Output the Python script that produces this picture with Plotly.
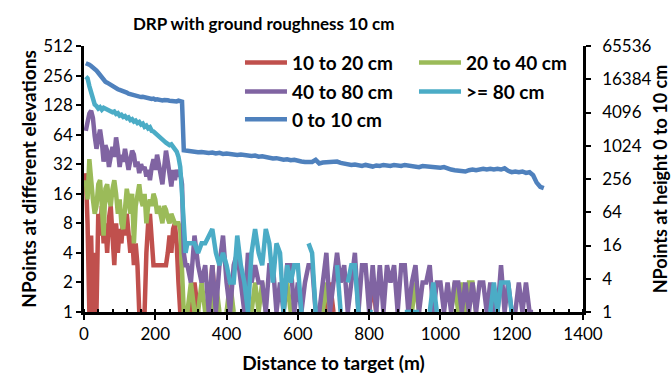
import math
import plotly.graph_objects as go

# Sampling grid: 5 m steps close to the target, 10 m steps further out
near_distance = list(range(5, 290, 5))       # 5 .. 285 m
far_distance = list(range(290, 1300, 10))    # 290 .. 1290 m
distance_m = near_distance + far_distance

N = None  # no points in that class at this distance

# 0 to 10 cm (plotted against the right-hand axis)
pts_0_10_near = [
    32000, 31500, 30000, 28500, 27000, 25500, 23500, 21500, 19500, 17500,
    15800, 14800, 14200, 13500, 13000, 12000, 11800, 11300, 10800, 10500,
    10300, 9900, 9600, 9400, 9000, 8800, 8700, 8400, 8300, 8000,
    7900, 7800, 7900, 7700, 7500, 7300, 7400, 7200, 7300, 7000,
    7100, 6900, 7000, 6800, 6900, 6700, 6800, 6700, 6600, 6700,
    6600, 6500, 6700, 6500, 6400, 850, 840,
]
pts_0_10_far = [
    830, 800, 810, 780, 790, 770, 760, 770, 740, 760,
    730, 740, 720, 730, 700, 710, 690, 700, 670, 680,
    650, 660, 630, 610, 600, 610, 590, 570, 580, 560,
    570, 540, 530, 520, 530, 520, 570, 490, 510, 520,
    510, 520, 530, 500, 480, 470, 460, 470, 450, 440,
    460, 440, 430, 450, 440, 460, 450, 440, 460, 450,
    440, 460, 450, 430, 440, 420, 440, 430, 420, 430,
    420, 410, 420, 390, 380, 370, 360, 350, 350, 370,
    380, 370, 380, 390, 380, 390, 380, 390, 380, 400,
    360, 340, 350, 340, 350, 330, 340, 300, 220, 185,
    175,
]

# 10 to 20 cm
pts_10_20_near = [
    26, 8, 1, 6, 1, 4, 1, 10, 6, 12,
    5, 8, 4, 9, 12, 6, 3, 8, 4, 7,
    5, 9, 6, 10, 7, 4, 6, 3, 5, 3,
    1, 1, 1, 1, 4, 8, 10, 6, 3, 3,
    3, 3, 3, 3, 3, 3, 4, 6, 4, 7,
    8, 5, 2, 1, 1, N, N,
]
pts_10_20_far = [
    N, 1, 2, 1, N, N, 1, 3, 1, N,
    N, N, N, N, N, N, N, N, N, N,
    N, N, N, N, N, N, N, N, N, N,
    N, N, N, N, N, N, N, N, N, 1,
    2, 1, N, N, N, N, N, N, N, N,
    N, 1, 2, 1, N, N, N, N, N, N,
    N, N, N, N, N, N, N, N, N, N,
    N, N, N, N, N, N, N, N, N, N,
    N, N, N, N, N, N, N, N, N, N,
    N, N, N, N, N, N, N, N, N, N,
    N,
]

# 20 to 40 cm
pts_20_40_near = [
    22, 14, 36, 20, 14, 10, 12, 20, 22, 12,
    6, 18, 20, 14, 12, 18, 22, 16, 10, 14,
    8, 7, 12, 18, 14, 10, 16, 5, 12, 16,
    20, 14, 12, 16, 8, 12, 14, 12, 16, 14,
    10, 12, 10, 8, 12, 11, 9, 8, 10, 9,
    8, 8, 8, 7, 3, 1, 1,
]
pts_20_40_far = [
    1, 2, 1, 1, 2, 1, N, 1, 2, 1,
    N, 1, 2, 1, N, N, N, N, 1, 2,
    1, 2, 1, N, N, N, N, 1, 2, 1,
    N, N, N, N, N, N, N, N, 1, 2,
    1, N, N, N, N, N, N, N, N, N,
    N, N, N, N, N, N, N, N, N, N,
    N, N, N, 1, 2, 1, N, N, N, N,
    N, N, N, N, 1, 2, 1, 2, 1, 2,
    2, 1, N, N, N, N, N, N, N, N,
    N, N, N, N, N, N, N, N, N, N,
    N,
]

# 40 to 80 cm
pts_40_80_near = [
    70, 85, 105, 112, 95, 62, 46, 58, 72, 54,
    34, 50, 44, 30, 42, 48, 38, 60, 45, 30,
    40, 34, 46, 36, 28, 35, 44, 40, 30, 34,
    26, 32, 28, 30, 24, 28, 22, 30, 36, 28,
    40, 32, 26, 20, 30, 44, 34, 24, 19, 28,
    22, 28, 24, 26, 20, 4, 3,
]
pts_40_80_far = [
    3, 2, 6, 3, 2, 3, 1, 3, 1, 3,
    6, 2, 1, 3, 4, 2, 1, 4, 2, 3,
    2, 2, 1, 3, 3, 1, 2, 1, 3, 3,
    1, 2, 1, 2, 3, 3, 1, 1, 2, 4,
    1, 2, 4, 2, 3, 1, 2, 4, 1, 3,
    3, 1, 3, 1, 3, 1, 3, 2, 3, 1,
    3, 3, 1, 2, 3, 1, 2, 2, 3, 1,
    2, 2, 1, 2, 1, 2, 2, 1, 2, 1,
    2, 1, 2, 2, 1, 2, 1, 1, 3, 1,
    2, 1, 1, 2, 1, 2, 1, 1, N, N,
    N,
]

# >= 80 cm
pts_80_up_near = [
    250, 240, 200, 170, 140, 130, 125, 118, 122, 115,
    120, 118, 114, 112, 110, 108, 110, 104, 106, 100,
    102, 97, 99, 94, 96, 90, 92, 87, 89, 84,
    86, 81, 83, 77, 79, 74, 76, 70, 69, 66,
    64, 61, 59, 57, 55, 53, 52, 50, 51, 48,
    46, 43, 38, 30, 16, 6, 4,
]
pts_80_up_far = [
    5, 5, 5, 4, 5, 5, 6, 7, 4, 3,
    4, 3, 2, 2, 6, 3, 2, 1, 4, 7,
    4, 3, 7, 5, 2, 5, 4, 1, 3, 2,
    3, 3, 1, N, 5, 4, 1, N, N, N,
    N, N, 3, 1, N, 2, 3, 3, 1, N,
    N, 1, 1, N, N, N, N, N, N, N,
    N, 1, 1, 1, 1, 1, N, N, 1, 2,
    1, N, N, N, N, N, N, N, N, N,
    N, N, N, N, N, 1, 2, 1, 2, 2,
    2, 1, N, N, N, N, N, N, N, N,
    N,
]

left_ticks = [1, 2, 4, 8, 16, 32, 64, 128, 256, 512]
right_ticks = [1, 4, 16, 64, 256, 1024, 4096, 16384, 65536]
x_ticks = [0, 200, 400, 600, 800, 1000, 1200, 1400]

# (label, values, colour, legend slot, y axis)
series = [
    ("10 to 20 cm", pts_10_20_near + pts_10_20_far, "#C0504D", "legend", "y"),
    ("20 to 40 cm", pts_20_40_near + pts_20_40_far, "#9BBB59", "legend2", "y"),
    ("40 to 80 cm", pts_40_80_near + pts_40_80_far, "#8064A2", "legend3", "y"),
    (">= 80 cm", pts_80_up_near + pts_80_up_far, "#4BACC6", "legend4", "y"),
    ("0 to 10 cm", pts_0_10_near + pts_0_10_far, "#4F81BD", "legend5", "y2"),
]

FONT = "Lato"

fig = go.Figure()
for name, values, color, legend_id, axis in series:
    fig.add_trace(go.Scatter(
        x=distance_m, y=values, name=name, mode="lines",
        line=dict(color=color, width=4.5), connectgaps=False,
        legend=legend_id, yaxis=axis, showlegend=True,
    ))

axis_line = dict(showline=True, linecolor="black", linewidth=2.5,
                 showgrid=False, zeroline=False, ticks="outside",
                 ticklen=5, tickwidth=2, tickcolor="black", automargin=False,
                 tickfont=dict(family=FONT, size=17, color="black"))


def title_font(size):
    return dict(family=FONT, size=size, color="black", weight="bold")


def legend_box(x, y):
    return dict(orientation="v", xanchor="left", yanchor="middle", x=x, y=y,
                itemwidth=42, bgcolor="rgba(0,0,0,0)", borderwidth=0,
                font=dict(family=FONT, size=19, color="black", weight="bold"))


col1, col2 = 0.3126, 0.6613
row1, row2, row3 = 0.937, 0.828, 0.724

fig.update_layout(
    template="none",
    width=671, height=374,
    margin=dict(l=84, r=88, t=46, b=62, autoexpand=False),
    paper_bgcolor="white", plot_bgcolor="white",
    font=dict(family=FONT, size=17, color="black"),
    showlegend=True,
    title=dict(text="DRP with ground roughness 10 cm", x=0.393, xanchor="center",
               xref="container", y=0.937, yanchor="middle", yref="container",
               font=title_font(17)),
    xaxis=dict(**axis_line, range=[0, 1400], tickvals=x_ticks,
               minor=dict(dtick=40, tick0=0, ticks="inside", ticklen=3,
                          tickwidth=2, tickcolor="black", showgrid=False),
               title=dict(text="Distance to target (m)", standoff=19,
                          font=title_font(19))),
    yaxis=dict(**axis_line, type="log", range=[0, math.log10(512)],
               tickvals=left_ticks, ticktext=[str(v) for v in left_ticks],
               title=dict(text="NPoints at different elevations", standoff=2,
                          font=title_font(19))),
    yaxis2=dict(**axis_line, type="log", overlaying="y", side="right",
                range=[0, math.log10(65536)], tickvals=right_ticks,
                ticktext=[str(v) for v in right_ticks], ticklabelstandoff=8,
                title=dict(text="NPoints at height 0 to 10 cm", standoff=0,
                           font=title_font(18))),
    legend=legend_box(col1, row1),
    legend2=legend_box(col2, row1),
    legend3=legend_box(col1, row2),
    legend4=legend_box(col2, row2),
    legend5=legend_box(col1, row3),
)

fig.write_html("out.html")
